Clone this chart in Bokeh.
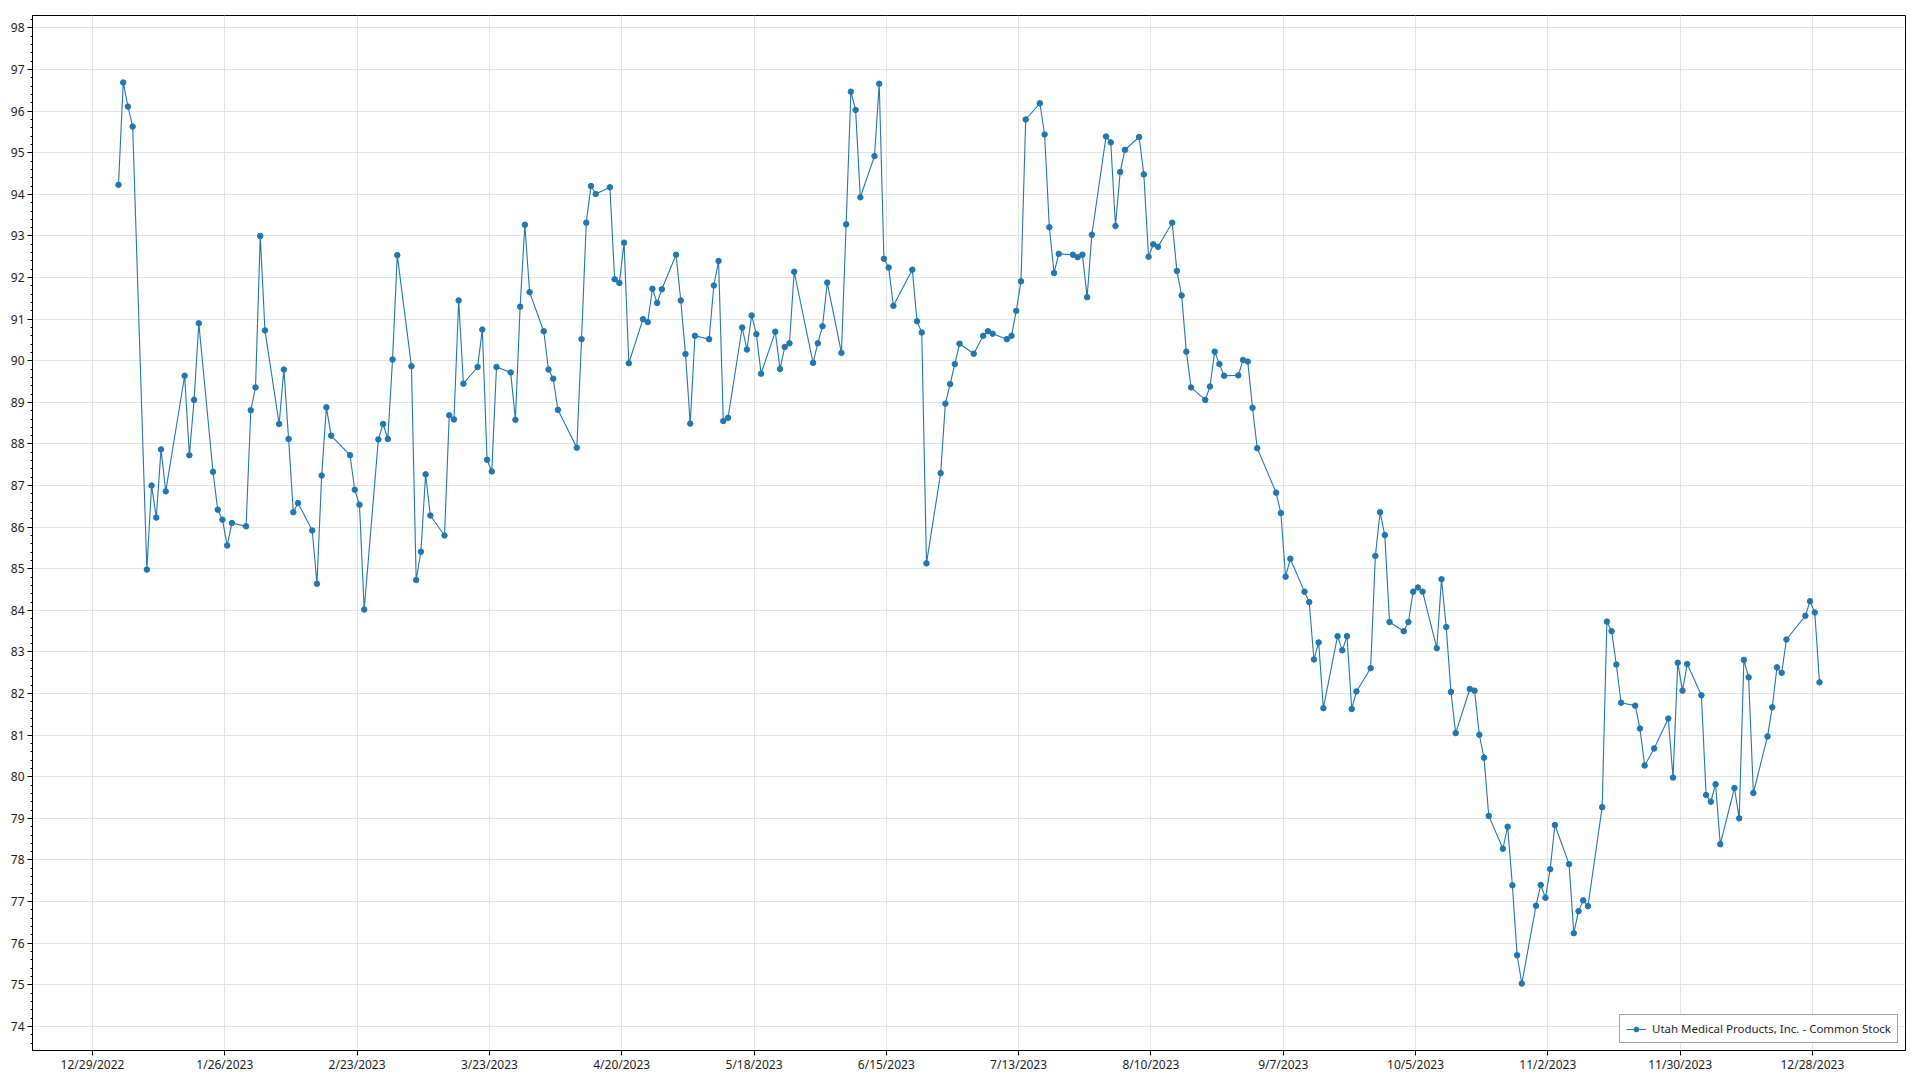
import pandas as pd
from bokeh.plotting import figure
from bokeh.models import (ColumnDataSource, FixedTicker, SingleIntervalTicker,
                          CustomJSTickFormatter, Range1d, Legend, LegendItem)
from bokeh.embed import file_html
from bokeh.resources import INLINE

series_name = "Utah Medical Products, Inc. - Common Stock"

dates_jan = ["2023-01-03", "2023-01-04", "2023-01-05", "2023-01-06", "2023-01-09", "2023-01-10",
             "2023-01-11", "2023-01-12", "2023-01-13", "2023-01-17", "2023-01-18", "2023-01-19",
             "2023-01-20", "2023-01-23", "2023-01-24", "2023-01-25", "2023-01-26", "2023-01-27",
             "2023-01-30", "2023-01-31"]
close_jan = [94.23, 96.69, 96.11, 95.63, 84.98, 87.00, 86.23, 87.87, 86.86, 89.64, 87.73, 89.06,
             90.90, 87.33, 86.42, 86.18, 85.56, 86.10, 86.02, 88.81]

dates_feb = ["2023-02-01", "2023-02-02", "2023-02-03", "2023-02-06", "2023-02-07", "2023-02-08",
             "2023-02-09", "2023-02-10", "2023-02-13", "2023-02-14", "2023-02-15", "2023-02-16",
             "2023-02-17", "2023-02-21", "2023-02-22", "2023-02-23", "2023-02-24", "2023-02-27",
             "2023-02-28"]
close_feb = [89.36, 93.00, 90.73, 88.48, 89.79, 88.12, 86.36, 86.58, 85.92, 84.64, 87.24, 88.88,
             88.20, 87.73, 86.90, 86.54, 84.02, 88.11, 88.48]

dates_mar = ["2023-03-01", "2023-03-02", "2023-03-03", "2023-03-06", "2023-03-07", "2023-03-08",
             "2023-03-09", "2023-03-10", "2023-03-13", "2023-03-14", "2023-03-15", "2023-03-16",
             "2023-03-17", "2023-03-20", "2023-03-21", "2023-03-22", "2023-03-23", "2023-03-24",
             "2023-03-27", "2023-03-28", "2023-03-29", "2023-03-30", "2023-03-31"]
close_mar = [88.12, 90.03, 92.54, 89.87, 84.73, 85.41, 87.27, 86.28, 85.80, 88.69, 88.59, 91.45,
             89.45, 89.85, 90.75, 87.62, 87.34, 89.85, 89.72, 88.58, 91.30, 93.27, 91.65]

dates_apr = ["2023-04-03", "2023-04-04", "2023-04-05", "2023-04-06", "2023-04-10", "2023-04-11",
             "2023-04-12", "2023-04-13", "2023-04-14", "2023-04-17", "2023-04-18", "2023-04-19",
             "2023-04-20", "2023-04-21", "2023-04-24", "2023-04-25", "2023-04-26", "2023-04-27",
             "2023-04-28"]
close_apr = [90.71, 89.79, 89.57, 88.82, 87.91, 90.52, 93.32, 94.20, 94.01, 94.17, 91.96, 91.87,
             92.84, 89.94, 91.00, 90.93, 91.73, 91.39, 91.72]

dates_may = ["2023-05-01", "2023-05-02", "2023-05-03", "2023-05-04", "2023-05-05", "2023-05-08",
             "2023-05-09", "2023-05-10", "2023-05-11", "2023-05-12", "2023-05-15", "2023-05-16",
             "2023-05-17", "2023-05-18", "2023-05-19", "2023-05-22", "2023-05-23", "2023-05-24",
             "2023-05-25", "2023-05-26", "2023-05-30", "2023-05-31"]
close_may = [92.55, 91.45, 90.16, 88.49, 90.60, 90.52, 91.81, 92.40, 88.55, 88.63, 90.80, 90.27,
             91.09, 90.64, 89.69, 90.70, 89.80, 90.33, 90.42, 92.14, 89.95, 90.42]

dates_jun = ["2023-06-01", "2023-06-02", "2023-06-05", "2023-06-06", "2023-06-07", "2023-06-08",
             "2023-06-09", "2023-06-12", "2023-06-13", "2023-06-14", "2023-06-15", "2023-06-16",
             "2023-06-20", "2023-06-21", "2023-06-22", "2023-06-23", "2023-06-26", "2023-06-27",
             "2023-06-28", "2023-06-29", "2023-06-30"]
close_jun = [90.83, 91.88, 90.19, 93.28, 96.47, 96.03, 93.93, 94.92, 96.66, 92.45, 92.24, 91.32,
             92.19, 90.95, 90.68, 85.13, 87.30, 88.97, 89.44, 89.92, 90.41]

dates_jul = ["2023-07-03", "2023-07-05", "2023-07-06", "2023-07-07", "2023-07-10", "2023-07-11",
             "2023-07-12", "2023-07-13", "2023-07-14", "2023-07-17", "2023-07-18", "2023-07-19",
             "2023-07-20", "2023-07-21", "2023-07-24", "2023-07-25", "2023-07-26", "2023-07-27",
             "2023-07-28", "2023-07-31"]
close_jul = [90.17, 90.60, 90.71, 90.65, 90.52, 90.60, 91.20, 91.91, 95.80, 96.19, 95.44, 93.21,
             92.11, 92.57, 92.55, 92.49, 92.55, 91.53, 93.03, 95.39]

dates_aug = ["2023-08-01", "2023-08-02", "2023-08-03", "2023-08-04", "2023-08-07", "2023-08-08",
             "2023-08-09", "2023-08-10", "2023-08-11", "2023-08-14", "2023-08-15", "2023-08-16",
             "2023-08-17", "2023-08-18", "2023-08-21", "2023-08-22", "2023-08-23", "2023-08-24",
             "2023-08-25", "2023-08-28", "2023-08-29", "2023-08-30", "2023-08-31"]
close_aug = [95.25, 93.24, 94.54, 95.07, 95.38, 94.48, 92.50, 92.80, 92.74, 93.32, 92.16, 91.57,
             90.22, 89.36, 89.06, 89.38, 90.22, 89.92, 89.64, 89.65, 90.02, 89.98, 88.87]

dates_sep = ["2023-09-01", "2023-09-05", "2023-09-06", "2023-09-07", "2023-09-08", "2023-09-11",
             "2023-09-12", "2023-09-13", "2023-09-14", "2023-09-15", "2023-09-18", "2023-09-19",
             "2023-09-20", "2023-09-21", "2023-09-22", "2023-09-25", "2023-09-26", "2023-09-27",
             "2023-09-28", "2023-09-29"]
close_sep = [87.90, 86.83, 86.34, 84.81, 85.24, 84.45, 84.20, 82.82, 83.23, 81.65, 83.38, 83.04,
             83.38, 81.63, 82.05, 82.61, 85.31, 86.36, 85.81, 83.72]

dates_oct = ["2023-10-02", "2023-10-03", "2023-10-04", "2023-10-05", "2023-10-06", "2023-10-09",
             "2023-10-10", "2023-10-11", "2023-10-12", "2023-10-13", "2023-10-16", "2023-10-17",
             "2023-10-18", "2023-10-19", "2023-10-20", "2023-10-23", "2023-10-24", "2023-10-25",
             "2023-10-26", "2023-10-27", "2023-10-30", "2023-10-31"]
close_oct = [83.50, 83.72, 84.45, 84.55, 84.45, 83.09, 84.75, 83.60, 82.04, 81.05, 82.11, 82.07,
             81.01, 80.46, 79.06, 78.27, 78.80, 77.39, 75.71, 75.03, 76.90, 77.40]

dates_nov = ["2023-11-01", "2023-11-02", "2023-11-03", "2023-11-06", "2023-11-07", "2023-11-08",
             "2023-11-09", "2023-11-10", "2023-11-13", "2023-11-14", "2023-11-15", "2023-11-16",
             "2023-11-17", "2023-11-20", "2023-11-21", "2023-11-22", "2023-11-24", "2023-11-27",
             "2023-11-28", "2023-11-29", "2023-11-30"]
close_nov = [77.09, 77.78, 78.84, 77.90, 76.24, 76.77, 77.03, 76.89, 79.27, 83.73, 83.50, 82.70,
             81.78, 81.71, 81.16, 80.27, 80.68, 81.40, 79.98, 82.74, 82.07]

dates_dec = ["2023-12-01", "2023-12-04", "2023-12-05", "2023-12-06", "2023-12-07", "2023-12-08",
             "2023-12-11", "2023-12-12", "2023-12-13", "2023-12-14", "2023-12-15", "2023-12-18",
             "2023-12-19", "2023-12-20", "2023-12-21", "2023-12-22", "2023-12-26", "2023-12-27",
             "2023-12-28", "2023-12-29"]
close_dec = [82.71, 81.96, 79.56, 79.40, 79.82, 78.38, 79.73, 79.00, 82.81, 82.39, 79.61, 80.97,
             81.67, 82.63, 82.50, 83.30, 83.87, 84.22, 83.95, 82.27]

tick_dates = ["2022-12-29", "2023-01-26", "2023-02-23", "2023-03-23", "2023-04-20", "2023-05-18",
              "2023-06-15", "2023-07-13", "2023-08-10", "2023-09-07", "2023-10-05", "2023-11-02",
              "2023-11-30", "2023-12-28"]

dates = (dates_jan + dates_feb + dates_mar + dates_apr + dates_may + dates_jun +
         dates_jul + dates_aug + dates_sep + dates_oct + dates_nov + dates_dec)
closes = (close_jan + close_feb + close_mar + close_apr + close_may + close_jun +
          close_jul + close_aug + close_sep + close_oct + close_nov + close_dec)

# points sit at mid-day of their trading date
x_dt = pd.to_datetime(dates) + pd.Timedelta(hours=12)
source = ColumnDataSource(data=dict(x=x_dt, y=closes))

tick_ms = [pd.Timestamp(d).value / 1e6 for d in tick_dates]
day_ms = 86400000.0
x_start = tick_ms[0] - 12.7 * day_ms
x_end = tick_ms[0] + 383.7 * day_ms

FONT = "Noto Sans"
TXT = "#1e1e1e"
GRID = "#e3e3e3"
BLUE = "#1f77b4"

p = figure(width=1912, height=1072, frame_width=1873, frame_height=1035,
           x_axis_type="datetime", output_backend="svg", toolbar_location=None,
           x_range=Range1d(x_start, x_end), y_range=Range1d(73.42, 98.30),
           min_border_left=32, min_border_right=7, min_border_top=15, min_border_bottom=22)
p.background_fill_color = "white"
p.border_fill_color = "white"
p.outline_line_color = "black"
p.outline_line_width = 1
p.outline_line_alpha = 1

r_line = p.line("x", "y", source=source, line_color=BLUE, line_width=1.1)
r_pts = p.scatter("x", "y", source=source, size=5.5, fill_color=BLUE, line_color=BLUE)

p.xaxis.ticker = FixedTicker(ticks=tick_ms, minor_ticks=[])
p.xaxis.formatter = CustomJSTickFormatter(code="""
const d = new Date(tick);
return (d.getUTCMonth() + 1) + "/" + d.getUTCDate() + "/" + d.getUTCFullYear();
""")
p.yaxis.ticker = SingleIntervalTicker(interval=1, num_minor_ticks=5)

for ax in (p.xaxis[0], p.yaxis[0]):
    ax.axis_line_color = "black"
    ax.axis_line_width = 1
    ax.major_tick_line_color = "black"
    ax.minor_tick_line_color = "black"
    ax.major_tick_in = 0
    ax.major_tick_out = 5
    ax.minor_tick_in = 0
    ax.minor_tick_out = 2
    ax.major_label_text_font = FONT
    ax.major_label_text_font_size = "12px"
    ax.major_label_text_color = TXT
    ax.major_label_standoff = 3
p.xaxis.major_label_standoff = 0

p.xgrid.grid_line_color = GRID
p.ygrid.grid_line_color = GRID
p.xgrid.grid_line_width = 1
p.ygrid.grid_line_width = 1

legend = Legend(items=[LegendItem(label=series_name, renderers=[r_line, r_pts])],
                location="bottom_right")
legend.margin = 7
legend.padding = 6
legend.spacing = 0
legend.label_text_font = FONT
legend.label_text_font_size = "11.5px"
legend.label_text_color = TXT
legend.border_line_color = "#444444"
legend.border_line_width = 1.5
legend.background_fill_color = "white"
legend.background_fill_alpha = 1
legend.glyph_width = 20
legend.glyph_height = 12
legend.label_standoff = 6
p.add_layout(legend, "center")

open("out.html", "w").write(file_html(p, INLINE))
